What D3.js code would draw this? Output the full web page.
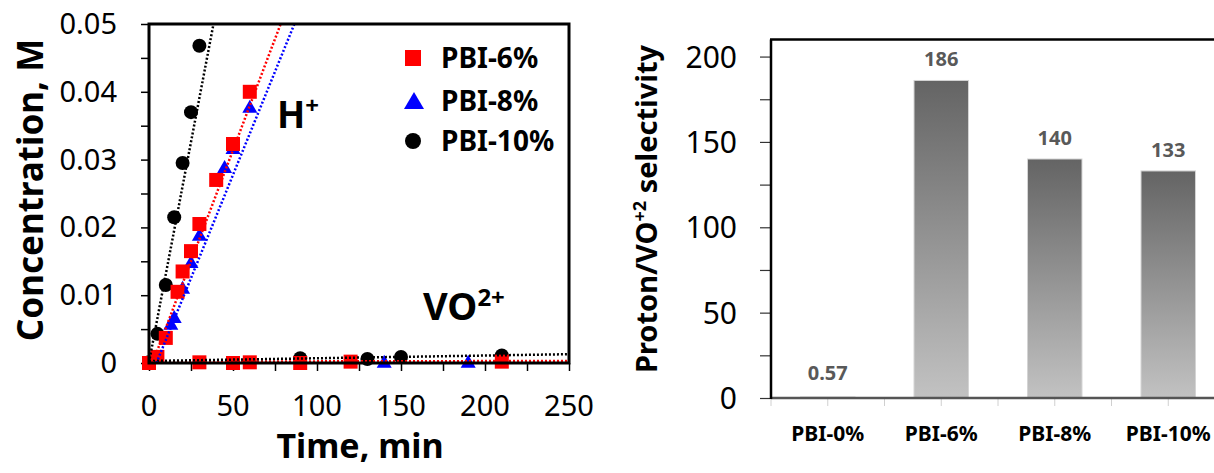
<!DOCTYPE html>
<html>
<head>
<meta charset="utf-8">
<script src="https://cdn.jsdelivr.net/npm/d3@7"></script>
<style>
  html, body { margin: 0; padding: 0; background: #fff; }
  svg { display: block; font-family: 'Noto Sans', 'Open Sans', sans-serif; }
</style>
</head>
<body>
<div id="chart"></div>
<script>
// ── Data: left panel (concentration vs time) ─────────────────────────────────
const h6Time  = [0, 5, 10, 17, 20, 25, 30, 40, 50, 60];
const h6Conc  = [0, 0.0009, 0.0037, 0.0105, 0.0135, 0.0165, 0.0205, 0.027, 0.0323, 0.040];
const h8Time  = [13, 15, 20, 25, 30, 45, 50, 60];
const h8Conc  = [0.0058, 0.0068, 0.0111, 0.0149, 0.0189, 0.0289, 0.0317, 0.0378];
const h10Time = [5, 10, 15, 20, 25, 30];
const h10Conc = [0.0043, 0.0115, 0.0215, 0.0295, 0.037, 0.0468];

const vo6Time  = [0, 30, 50, 60, 90, 120, 210];
const vo6Conc  = [0, 0.0001, 0, 0.0001, 0, 0.0002, 0.0002];
const vo8Time  = [140, 190];
const vo8Conc  = [0.0002, 0.0002];
const vo10Time = [0, 90, 130, 150, 210];
const vo10Conc = [0.0001, 0.0007, 0.0006, 0.0009, 0.0011];

// linear trend lines: [slope, intercept]
const fitH6   = [0.000656, -0.0014];
const fitH8   = [0.000609, -0.0027];
const fitH10  = [0.0013, 0.0001];
const fitVO6  = [0.0000004, 0.0002];
const fitVO8  = [0.0000002, 0.0001];
const fitVO10 = [0.000004, 0.0003];

const legendNames = ['PBI-6%', 'PBI-8%', 'PBI-10%'];
const xTicksLeft  = [0, 50, 100, 150, 200, 250];
const yTicksLeft  = [0, 0.01, 0.02, 0.03, 0.04, 0.05];

// ── Data: right panel (selectivity) ──────────────────────────────────────────
const barCats   = ['PBI-0%', 'PBI-6%', 'PBI-8%', 'PBI-10%'];
const barVals   = [0.57, 186, 140, 133];
const barLabels = ['0.57', '186', '140', '133'];
const yTicksRight = [0, 50, 100, 150, 200];

const W = 1214, H = 473;
const svg = d3.select('#chart').append('svg').attr('width', W).attr('height', H);

// ── Left panel ───────────────────────────────────────────────────────────────
const x = d3.scaleLinear().domain([0, 250]).range([149, 569]);
const y = d3.scaleLinear().domain([0, 0.05]).range([363, 24]);

const RED = '#ff0000', BLUE = '#0000ff', BLACK = '#000';

// minor/major ticks
svg.append('g')
  .attr('transform', `translate(0,${y(0)})`)
  .call(d3.axisBottom(x).tickValues(d3.range(0, 251, 25)).tickSize(8).tickFormat(''))
  .call(ax => ax.select('.domain').remove())
  .call(ax => ax.selectAll('line').attr('stroke', '#000').attr('stroke-width', 1.5));

svg.append('g')
  .attr('transform', `translate(${x(0)},0)`)
  .call(d3.axisLeft(y).tickValues(d3.range(0, 0.0501, 0.005)).tickSize(8).tickFormat(''))
  .call(ax => ax.select('.domain').remove())
  .call(ax => ax.selectAll('line').attr('stroke', '#000').attr('stroke-width', 1.5));

// tick labels
svg.append('g').selectAll('text').data(xTicksLeft).join('text')
  .attr('x', d => x(d)).attr('y', 416)
  .attr('text-anchor', 'middle')
  .style('font-size', '29px')
  .text(d => d);

svg.append('g').selectAll('text').data(yTicksLeft).join('text')
  .attr('x', 117).attr('y', d => y(d) + 10)
  .attr('text-anchor', 'end')
  .style('font-size', '29px')
  .text(d => d === 0 ? '0' : d.toFixed(2));

// axis titles
svg.append('text')
  .attr('x', 360).attr('y', 458)
  .attr('text-anchor', 'middle')
  .style('font-size', '34px').style('font-weight', 'bold')
  .text('Time, min');

svg.append('text')
  .attr('transform', 'translate(43,190) rotate(-90)')
  .attr('text-anchor', 'middle')
  .style('font-size', '35px').style('font-weight', 'bold')
  .text('Concentration, M');

// markers
const zip = (xs, ys) => xs.map((t, i) => ({ t, c: ys[i] }));
const gMarks = svg.append('g');

function circles(data) {
  gMarks.append('g').selectAll('circle').data(data).join('circle')
    .attr('cx', d => x(d.t)).attr('cy', d => y(d.c)).attr('r', 7).attr('fill', BLACK);
}
function triangles(data) {
  gMarks.append('g').selectAll('path').data(data).join('path')
    .attr('transform', d => `translate(${x(d.t)},${y(d.c)})`)
    .attr('d', 'M0,-7L7.5,6L-7.5,6Z').attr('fill', BLUE);
}
function squares(data) {
  gMarks.append('g').selectAll('rect').data(data).join('rect')
    .attr('x', d => x(d.t) - 7).attr('y', d => y(d.c) - 7)
    .attr('width', 14).attr('height', 14).attr('fill', RED);
}

circles(zip(h10Time, h10Conc).concat(zip(vo10Time, vo10Conc)));
triangles(zip(h8Time, h8Conc).concat(zip(vo8Time, vo8Conc)));
squares(zip(h6Time, h6Conc).concat(zip(vo6Time, vo6Conc)));

// trend lines (clipped to the plot)
svg.append('defs').append('clipPath').attr('id', 'plotClip')
  .append('rect').attr('x', x(0)).attr('y', y(0.05)).attr('width', x(250) - x(0)).attr('height', y(0) - y(0.05));

const gFit = svg.append('g').attr('clip-path', 'url(#plotClip)');
function fitLine([m, b], color) {
  const t0 = Math.max(0, -b / m);
  const t1 = Math.min(250, (0.05 - b) / m);
  gFit.append('line')
    .attr('x1', x(t0)).attr('y1', y(m * t0 + b))
    .attr('x2', x(t1)).attr('y2', y(m * t1 + b))
    .attr('stroke', color).attr('stroke-width', 2.5)
    .attr('stroke-dasharray', '2,2');
}
fitLine(fitVO8, BLUE);
fitLine(fitVO6, RED);
fitLine(fitVO10, BLACK);
fitLine(fitH10, BLACK);
fitLine(fitH6, RED);
fitLine(fitH8, BLUE);

// plot frame
svg.append('rect')
  .attr('x', x(0)).attr('y', y(0.05))
  .attr('width', x(250) - x(0)).attr('height', y(0) - y(0.05))
  .attr('fill', 'none').attr('stroke', '#000').attr('stroke-width', 3);

// ion labels
const hLab = svg.append('text').attr('x', 277).attr('y', 128)
  .style('font-size', '37px').style('font-weight', 'bold');
hLab.append('tspan').text('H');
hLab.append('tspan').attr('dy', -14).style('font-size', '24px').text('+');

const voLab = svg.append('text').attr('x', 423).attr('y', 320)
  .style('font-size', '38px').style('font-weight', 'bold');
voLab.append('tspan').text('VO');
voLab.append('tspan').attr('dy', -14).style('font-size', '24px').text('2+');

// legend
const legendY = [58, 101, 141];
const lg = svg.append('g');
lg.append('rect').attr('x', 405).attr('y', legendY[0] - 8).attr('width', 16).attr('height', 16).attr('fill', RED);
lg.append('path').attr('transform', `translate(414,${legendY[1]})`).attr('d', 'M0,-9L10,8L-10,8Z').attr('fill', BLUE);
lg.append('circle').attr('cx', 413).attr('cy', legendY[2]).attr('r', 8).attr('fill', BLACK);
lg.selectAll('text').data(legendNames).join('text')
  .attr('x', 441).attr('y', (d, i) => legendY[i] + 10)
  .style('font-size', '28px').style('font-weight', 'bold')
  .text(d => d);

// ── Right panel ──────────────────────────────────────────────────────────────
const xb = d3.scaleBand().domain(barCats).range([771, 1225]).paddingInner(0.52).paddingOuter(0.26);
const yb = d3.scaleLinear().domain([0, 210]).range([398, 39.5]);

const grad = svg.select('defs').append('linearGradient')
  .attr('id', 'barGrad').attr('x1', 0).attr('y1', 0).attr('x2', 0).attr('y2', 1);
grad.append('stop').attr('offset', '0%').attr('stop-color', '#646464');
grad.append('stop').attr('offset', '100%').attr('stop-color', '#c2c2c2');

// y ticks
svg.append('g')
  .attr('transform', `translate(771,0)`)
  .call(d3.axisLeft(yb).tickValues(d3.range(0, 201, 25)).tickSize(11).tickFormat(''))
  .call(ax => ax.select('.domain').remove())
  .call(ax => ax.selectAll('line').attr('stroke', '#333').attr('stroke-width', 1.2));

svg.append('g').selectAll('text').data(yTicksRight).join('text')
  .attr('x', 737).attr('y', d => yb(d) + 11)
  .attr('text-anchor', 'end')
  .style('font-size', '30px')
  .text(d => d);

// category ticks (half-band spacing)
const step = xb.step();
svg.append('g').selectAll('line').data(d3.range(0, 8)).join('line')
  .attr('x1', i => 771 + i * step / 2).attr('x2', i => 771 + i * step / 2)
  .attr('y1', 398).attr('y2', 406)
  .attr('stroke', '#d0d0d0').attr('stroke-width', 1);

// bars
svg.append('g').selectAll('rect').data(barCats).join('rect')
  .attr('x', d => xb(d)).attr('width', xb.bandwidth())
  .attr('y', (d, i) => yb(barVals[i]))
  .attr('height', (d, i) => yb(0) - yb(barVals[i]))
  .attr('fill', 'url(#barGrad)')
  .attr('stroke', '#d4d4d4').attr('stroke-width', 1);

// value labels
svg.append('g').selectAll('text').data(barCats).join('text')
  .attr('x', d => xb(d) + xb.bandwidth() / 2)
  .attr('y', (d, i) => yb(barVals[i]) - (i === 0 ? 17 : 14))
  .attr('text-anchor', 'middle')
  .attr('fill', '#595959')
  .style('font-size', '20px').style('font-weight', 'bold')
  .text((d, i) => barLabels[i]);

// category labels
svg.append('g').selectAll('text').data(barCats).join('text')
  .attr('x', d => xb(d) + xb.bandwidth() / 2).attr('y', 441)
  .attr('text-anchor', 'middle')
  .style('font-size', '21px').style('font-weight', 'bold')
  .text(d => d);

// axis lines / frame
svg.append('line').attr('x1', 771).attr('x2', 1225).attr('y1', 398).attr('y2', 398)
  .attr('stroke', '#555').attr('stroke-width', 2.5);
svg.append('line').attr('x1', 771).attr('x2', 771).attr('y1', 39.5).attr('y2', 399)
  .attr('stroke', '#000').attr('stroke-width', 2.5);
svg.append('line').attr('x1', 770).attr('x2', 1225).attr('y1', 39.5).attr('y2', 39.5)
  .attr('stroke', '#000').attr('stroke-width', 2.5);

// y title
const yt = svg.append('text')
  .attr('transform', 'translate(657,209) rotate(-90)')
  .attr('text-anchor', 'middle')
  .style('font-size', '29px').style('font-weight', 'bold');
yt.append('tspan').text('Proton/VO');
yt.append('tspan').attr('dy', -11).style('font-size', '18px').text('+2');
yt.append('tspan').attr('dy', 11).text(' selectivity');
</script>
</body>
</html>
